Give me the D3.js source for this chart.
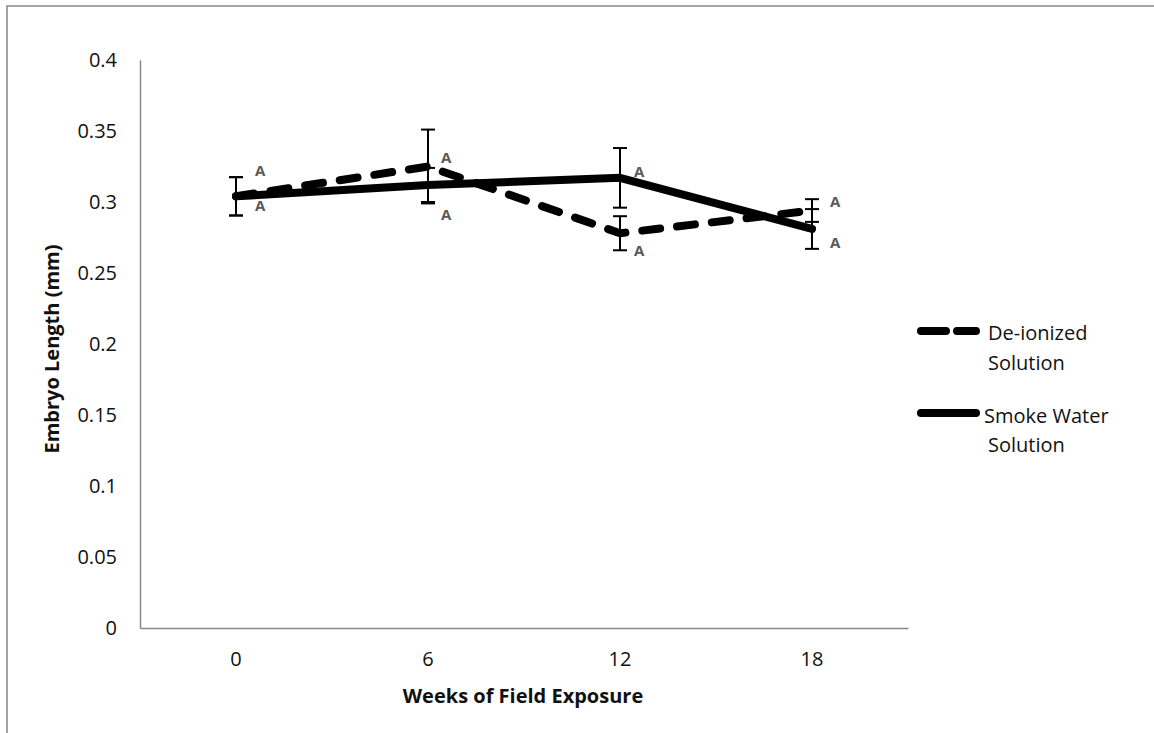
<!DOCTYPE html>
<html lang="en">
<head>
<meta charset="utf-8">
<script src="https://cdn.jsdelivr.net/npm/d3@7"></script>
<title>Embryo Length</title>
<style>
  body { margin: 0; background: #fff; }
  svg text { font-family: "Open Sans", "Noto Sans", sans-serif; }
</style>
</head>
<body>
<svg id="chart"></svg>
<script>
// weeks of field exposure
const weeks = ["0", "6", "12", "18"];
// mean embryo length (mm)
const deionized = [0.304, 0.325, 0.278, 0.294];
const smoke = [0.304, 0.312, 0.317, 0.281];
// error bar half widths
const deionizedErr = [0.0135, 0.026, 0.012, 0.008];
const smokeErr = [0.0135, 0.012, 0.021, 0.014];
const yTicks = [0, 0.05, 0.1, 0.15, 0.2, 0.25, 0.3, 0.35, 0.4];
// significance letters (upper, lower) at each week
const lettersHi = ["A", "A", "A", "A"];
const lettersLo = ["A", "A", "A", "A"];

const W = 1154, H = 733;
const svg = d3.select("#chart").attr("width", W).attr("height", H);

// outer frame (only top/left show in the picture)
svg.append("rect").attr("x", 7).attr("y", 6).attr("width", W).attr("height", H)
   .attr("fill", "none").attr("stroke", "#888").attr("stroke-width", 1.5);

const x = d3.scaleBand().domain(weeks).range([140, 908]);
const y = d3.scaleLinear().domain([0, 0.4]).range([628, 60]);
const cx = d => x(d) + x.bandwidth() / 2;

// axes
const yAxis = svg.append("g").attr("transform", "translate(140,0)")
  .call(d3.axisLeft(y).tickValues(yTicks).tickSize(0).tickPadding(23).tickFormat(d => String(+d.toFixed(2))));
yAxis.select(".domain").attr("stroke", "#888").attr("stroke-width", 1.5);
yAxis.selectAll("text").attr("font-size", 20).attr("fill", "#111");

const xAxis = svg.append("g").attr("transform", "translate(0,628)")
  .call(d3.axisBottom(x).tickSize(0).tickPadding(24));
xAxis.select(".domain").attr("stroke", "#888").attr("stroke-width", 1.5);
xAxis.selectAll("text").attr("font-size", 20).attr("fill", "#111");

svg.append("text").attr("x", 523).attr("y", 703).attr("text-anchor", "middle")
   .attr("font-size", 20).attr("font-weight", "bold").attr("fill", "#111").text("Weeks of Field Exposure");
svg.append("text").attr("transform", "translate(59,349) rotate(-90)").attr("text-anchor", "middle")
   .attr("font-size", 20).attr("font-weight", "bold").attr("fill", "#111").text("Embryo Length (mm)");

const series = [
  { name: "De-ionized", vals: deionized, err: deionizedErr, dash: "18,17", legDash: "25,11" },
  { name: "Smoke Water", vals: smoke, err: smokeErr, dash: null, legDash: null }
];

const line = d3.line().x((d, i) => cx(weeks[i])).y(d => y(d));

// lines
series.forEach(s => {
  svg.append("path").datum(s.vals).attr("d", line)
     .attr("fill", "none").attr("stroke", "#000").attr("stroke-width", 8)
     .attr("stroke-linecap", "round").attr("stroke-linejoin", "round")
     .attr("stroke-dasharray", s.dash);
});

// error bars
series.forEach(s => {
  const g = svg.append("g").attr("stroke", "#000").attr("stroke-width", 2);
  s.vals.forEach((v, i) => {
    const px = cx(weeks[i]);
    const top = y(v + s.err[i]), bot = y(v - s.err[i]);
    g.append("line").attr("x1", px).attr("x2", px).attr("y1", top).attr("y2", bot);
    g.append("line").attr("x1", px - 7).attr("x2", px + 7).attr("y1", top).attr("y2", top);
    g.append("line").attr("x1", px - 7).attr("x2", px + 7).attr("y1", bot).attr("y2", bot);
  });
});

// significance letters: upper series above-right, lower series below-right
const letterDx = [19, 13, 14, 18];
const hiDy = [-20, -4, -1, -4];
const loDy = [15, 35, 23, 19];
weeks.forEach((w, i) => {
  const hi = Math.max(deionized[i], smoke[i]);
  const lo = Math.min(deionized[i], smoke[i]);
  const px = cx(w) + letterDx[i];
  svg.append("text").attr("x", px).attr("y", y(hi) + hiDy[i])
     .attr("font-size", 15).attr("font-weight", "bold").attr("fill", "#595959").text(lettersHi[i]);
  svg.append("text").attr("x", px).attr("y", y(lo) + loDy[i])
     .attr("font-size", 15).attr("font-weight", "bold").attr("fill", "#595959").text(lettersLo[i]);
});

// legend
const legend = svg.append("g");
const legY = [331, 413];
const legText = [["De-ionized", "Solution"], ["Smoke Water", "Solution"]];
series.forEach((s, i) => {
  const ly = legY[i];
  legend.append("line").attr("x1", 921).attr("x2", 976).attr("y1", ly).attr("y2", ly)
     .attr("stroke", "#000").attr("stroke-width", 8).attr("stroke-linecap", "round")
     .attr("stroke-dasharray", s.legDash);
  const t = legend.append("text").attr("font-size", 20).attr("fill", "#111");
  t.append("tspan").attr("x", i ? 984 : 988).attr("y", ly + (i ? 10 : 9)).text(legText[i][0]);
  t.append("tspan").attr("x", 988).attr("y", ly + (i ? 39 : 39)).text(legText[i][1]);
});
</script>
</body>
</html>
